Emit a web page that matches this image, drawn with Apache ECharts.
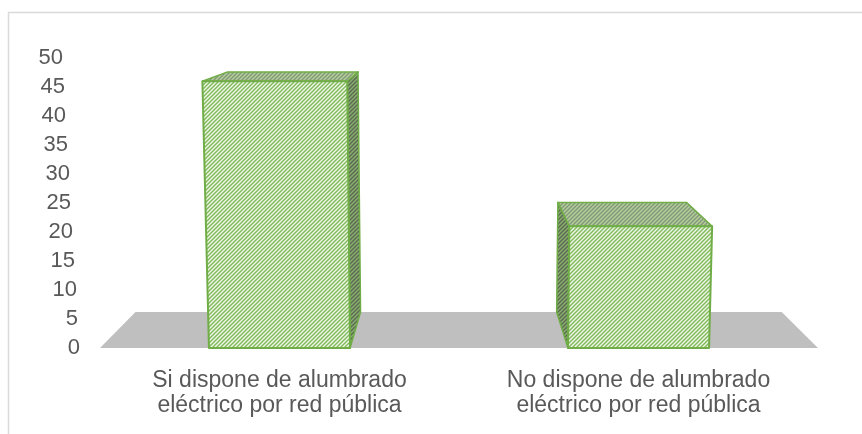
<!DOCTYPE html>
<html>
<head>
<meta charset="utf-8">
<script src="https://cdn.jsdelivr.net/npm/echarts@6/dist/echarts.min.js"></script>
<style>
  html, body { margin: 0; padding: 0; background: #ffffff; }
  #chart { width: 862px; height: 434px; }
</style>
</head>
<body>
<div id="chart"></div>
<script>
// Households by access to public electric lighting
const categories = [
  'Si dispone de alumbrado\neléctrico por red pública',
  'No dispone de alumbrado\neléctrico por red pública'
];
const households = [46, 21];
const yTicks = [0, 5, 10, 15, 20, 25, 30, 35, 40, 45, 50];

// Simple perspective: depth recedes toward VANISH, verticals splay slightly upward
const VANISH = { x: 455, y: -12 };
const DEPTH = 0.1;
const LEAN = 10000;
const BAR_RATIO = 0.393;
const TEXT = '#595959';
const FONT = 'Liberation Sans, Arial, sans-serif';

function project(baseY, x, y, d) {
  const h = baseY - y;
  const sx = VANISH.x + (x - VANISH.x) * (1 + h / LEAN);
  const s = 1 - DEPTH * d;
  return [VANISH.x + (sx - VANISH.x) * s, VANISH.y + (y - VANISH.y) * s];
}

function hatch(bg, stripe, size, width) {
  const c = document.createElement('canvas');
  c.width = size; c.height = size;
  const g = c.getContext('2d');
  g.fillStyle = bg;
  g.fillRect(0, 0, size, size);
  g.strokeStyle = stripe;
  g.lineWidth = width;
  g.beginPath();
  g.moveTo(0, size); g.lineTo(size, 0);
  g.moveTo(-size, size); g.lineTo(size, -size);
  g.moveTo(0, 2 * size); g.lineTo(2 * size, 0);
  g.stroke();
  return { image: c, repeat: 'repeat' };
}

const frontFill = hatch('#f1f8ea', '#82bb5e', 4, 1.5);
const topFill = hatch('#86947c', '#b2d498', 4, 1.4);
const sideFill = hatch('#5c6853', '#88b26d', 4, 1.4);

// Axis labels drift left as they rise, following the wall
const labelRich = {};
yTicks.forEach(function (t) {
  labelRich['t' + t] = {
    fontSize: 22, color: TEXT, fontFamily: FONT,
    padding: [0, Math.round(17 * t / 50), 0, 0]
  };
});

function renderFloor(params, api) {
  const cs = params.coordSys;
  const y0 = api.coord([0, 0])[1];
  const xl = cs.x, xr = cs.x + cs.width;
  const pts = [
    project(y0, xl, y0, 0), project(y0, xr, y0, 0),
    project(y0, xr, y0, 1), project(y0, xl, y0, 1)
  ];
  return { type: 'polygon', shape: { points: pts }, style: { fill: '#bfbfbf' }, silent: true };
}

function renderBar(params, api) {
  const idx = api.value(0), val = api.value(1);
  const top = api.coord([idx, val]);
  const base = api.coord([idx, 0]);
  const bw = api.size([1, 0])[0] * BAR_RATIO;
  const x0 = base[0] - bw / 2, x1 = base[0] + bw / 2;
  const y0 = base[1], y1 = top[1];
  const P = function (x, y, d) { return project(y0, x, y, d); };
  const fbl = P(x0, y0, 0), fbr = P(x1, y0, 0), ftl = P(x0, y1, 0), ftr = P(x1, y1, 0);
  const bbl = P(x0, y0, 1), bbr = P(x1, y0, 1), btl = P(x0, y1, 1), btr = P(x1, y1, 1);
  const edge = '#70ad47';
  const children = [];
  let side = null;
  if (x1 < VANISH.x) side = [fbr, ftr, btr, bbr];
  else if (x0 > VANISH.x) side = [fbl, ftl, btl, bbl];
  if (side) {
    children.push({ type: 'polygon', shape: { points: side },
      style: { fill: sideFill, stroke: edge, lineWidth: 1.5, lineJoin: 'round' } });
  }
  children.push({ type: 'polygon', shape: { points: [ftl, ftr, btr, btl] },
    style: { fill: topFill, stroke: edge, lineWidth: 1.5, lineJoin: 'round' } });
  children.push({ type: 'polygon', shape: { points: [fbl, fbr, ftr, ftl] },
    style: { fill: frontFill, stroke: edge, lineWidth: 2, lineJoin: 'round' } });
  return { type: 'group', children: children };
}

const chart = echarts.init(document.getElementById('chart'), null, { renderer: 'canvas' });
chart.setOption({
  backgroundColor: '#ffffff',
  animation: false,
  graphic: [{
    type: 'rect', silent: true, z: -10,
    shape: { x: 8.5, y: 12.5, width: 900, height: 500 },
    style: { fill: 'none', stroke: '#d9d9d9', lineWidth: 1.5 }
  }],
  grid: { left: 100, right: 44, top: 58, bottom: 86 },
  xAxis: {
    type: 'category',
    data: categories,
    axisLine: { show: false },
    axisTick: { show: false },
    axisLabel: {
      interval: 0, margin: 20, fontSize: 23, lineHeight: 25,
      color: TEXT, fontFamily: FONT
    }
  },
  yAxis: {
    type: 'value',
    min: 0, max: 50, interval: 5,
    axisLine: { show: false },
    axisTick: { show: false },
    splitLine: { show: false },
    axisLabel: {
      margin: 20, fontSize: 22, color: TEXT, fontFamily: FONT,
      formatter: function (v) { return '{t' + v + '|' + v + '}'; },
      rich: labelRich
    }
  },
  series: [
    {
      type: 'custom', name: 'floor', z: 1,
      data: [[0, 0]], encode: { x: 0, y: 1 },
      renderItem: renderFloor
    },
    {
      type: 'custom', name: 'Hogares', z: 2,
      data: households.map(function (v, i) { return [i, v]; }),
      encode: { x: 0, y: 1 },
      renderItem: renderBar
    }
  ]
});
</script>
</body>
</html>
